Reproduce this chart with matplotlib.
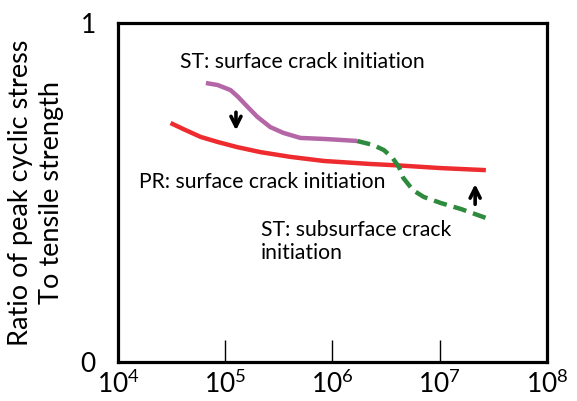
import matplotlib
matplotlib.use("Agg")
import matplotlib.pyplot as plt
import numpy as np

plt.rcParams['font.family'] = ['Lato', 'DejaVu Sans']
plt.rcParams['mathtext.fontset'] = 'custom'
plt.rcParams['mathtext.rm'] = 'Lato'
plt.rcParams['mathtext.it'] = 'Lato'

# Data (log10 of cycles, stress ratio)
pr_logn = [4.49, 4.61, 4.77, 4.93, 5.11, 5.33, 5.61, 5.92, 6.36, 6.61, 7.01, 7.43]
pr_ratio = [0.705, 0.687, 0.664, 0.649, 0.634, 0.619, 0.605, 0.593, 0.584, 0.580, 0.572, 0.566]

st_surf_logn = [4.82, 4.93, 5.05, 5.12, 5.21, 5.30, 5.42, 5.54, 5.70, 5.92, 6.08, 6.23]
st_surf_ratio = [0.823, 0.817, 0.802, 0.782, 0.752, 0.723, 0.693, 0.676, 0.661, 0.658, 0.655, 0.652]

st_sub_logn = [6.23, 6.38, 6.48, 6.56, 6.62, 6.66, 6.75, 6.85, 7.01, 7.20, 7.43]
st_sub_ratio = [0.652, 0.640, 0.625, 0.602, 0.575, 0.543, 0.507, 0.487, 0.469, 0.451, 0.425]

xtick_exps = [4, 5, 6, 7, 8]

fig = plt.figure(figsize=(5.77, 4.01), dpi=100)
ax = fig.add_axes([0.2045, 0.0973, 0.948 - 0.2045, 0.9426 - 0.0973])

ax.plot(10 ** np.array(pr_logn), pr_ratio, color='#ee2b2e', lw=3.2,
        solid_capstyle='butt', solid_joinstyle='round')
ax.plot(10 ** np.array(st_surf_logn), st_surf_ratio, color='#b466a6', lw=3.2,
        solid_capstyle='butt', solid_joinstyle='round')
ax.plot(10 ** np.array(st_sub_logn), st_sub_ratio, color='#2e8a3c', lw=3.2,
        ls=(0, (3, 1.6)), dash_joinstyle='round')

ax.set_xscale('log')
ax.set_xlim(1e4, 1e8)
ax.set_ylim(0, 1)

ax.set_xticks([10.0 ** e for e in xtick_exps])
ax.set_xticklabels([r'$\mathregular{10^{%d}}$' % e for e in xtick_exps], fontsize=19)
ax.xaxis.set_minor_locator(matplotlib.ticker.NullLocator())
ax.tick_params(axis='x', direction='in', length=16, width=1.0, pad=6)
ax.set_yticks([0, 1])
ax.set_yticklabels(['0', '1'], fontsize=19)
ax.tick_params(axis='y', length=0, pad=16)

for s in ax.spines.values():
    s.set_linewidth(2.3)

ax.set_ylabel('Ratio of peak cyclic stress\nTo tensile strength', fontsize=19.5,
              labelpad=12, linespacing=1.3)

ax.text(10 ** 4.58, 0.885, 'ST: surface crack initiation', fontsize=15.2, va='center', ha='left')
ax.text(10 ** 4.20, 0.530, 'PR: surface crack initiation', fontsize=15.2, va='center', ha='left')
ax.text(10 ** 5.33, 0.355, 'ST: subsurface crack\ninitiation', fontsize=15.2, va='center',
        ha='left', linespacing=1.2)

ax.annotate('', xy=(10 ** 5.10, 0.675), xytext=(10 ** 5.10, 0.745),
            arrowprops=dict(arrowstyle='->', lw=2.6, color='black', mutation_scale=18))
ax.annotate('', xy=(10 ** 7.33, 0.533), xytext=(10 ** 7.33, 0.457),
            arrowprops=dict(arrowstyle='->', lw=2.6, color='black', mutation_scale=18))

fig.savefig('out.png', dpi=100)
